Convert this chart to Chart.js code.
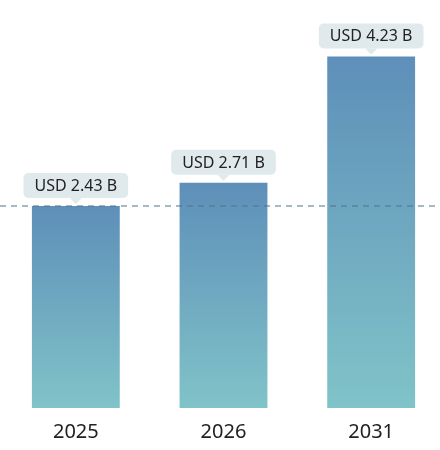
<!DOCTYPE html>
<html><head><meta charset="utf-8">
<script src="https://cdn.jsdelivr.net/npm/chart.js@4"></script>
<style>html,body{margin:0;background:#fff;overflow:hidden}#wrap{width:445px;height:450px}</style>
</head><body><div id="wrap"><canvas id="c"></canvas></div>
<script>
var years = ['2025', '2026', '2031'];
var values = [2.43, 2.71, 4.23];
var valueLabels = ['USD 2.43 B', 'USD 2.71 B', 'USD 4.23 B'];

var labelPlugin = {
  id: 'labels',
  afterDatasetsDraw: function(chart) {
    var ctx = chart.ctx, meta = chart.getDatasetMeta(0), y = chart.scales.y;
    // dashed reference line at first value
    var ly = y.getPixelForValue(values[0]);
    ctx.save();
    ctx.strokeStyle = '#4f7486'; ctx.lineWidth = 1.2; ctx.setLineDash([6, 5]);
    ctx.beginPath(); ctx.moveTo(0, ly); ctx.lineTo(chart.width, ly); ctx.stroke();
    ctx.setLineDash([]);
    ctx.font = '16px "Noto Sans", sans-serif';
    ctx.textAlign = 'center'; ctx.textBaseline = 'middle';
    meta.data.forEach(function(bar, i) {
      var w = ctx.measureText(valueLabels[i]).width + 22, h = 25;
      var bx = bar.x - w / 2, by = bar.y - 8 - h;
      ctx.fillStyle = '#e0e9eb';
      ctx.beginPath(); ctx.roundRect(bx, by, w, h, 5); ctx.fill();
      ctx.beginPath(); ctx.moveTo(bar.x - 6, by + h); ctx.lineTo(bar.x + 6, by + h); ctx.lineTo(bar.x, by + h + 6); ctx.fill();
      ctx.fillStyle = '#222';
      ctx.fillText(valueLabels[i], bar.x, by + h / 2 + 1);
    });
    ctx.restore();
  }
};

new Chart(document.getElementById('c'), {
  type: 'bar',
  data: {
    labels: years,
    datasets: [{
      data: values,
      backgroundColor: function(c) {
        var a = c.chart.chartArea;
        if (!a || c.raw === undefined) return '#6a9fc0';
        var g = c.chart.ctx.createLinearGradient(0, c.chart.scales.y.getPixelForValue(c.raw), 0, a.bottom);
        g.addColorStop(0, '#5e8fb9');
        g.addColorStop(1, '#80c3c8');
        return g;
      },
      barPercentage: 0.595,
      categoryPercentage: 1
    }]
  },
  options: {
    responsive: true, maintainAspectRatio: false, animation: false,
    layout: { padding: { top: 14, left: 2, right: 0, bottom: 2 } },
    plugins: { legend: { display: false }, tooltip: { enabled: false } },
    scales: {
      x: { grid: { display: false }, border: { display: false },
           ticks: { color: '#222', font: { size: 20, family: '"Noto Sans", sans-serif' }, padding: 4 } },
      y: { display: false, min: 0, max: 4.74 }
    }
  },
  plugins: [labelPlugin]
});
</script></body></html>
